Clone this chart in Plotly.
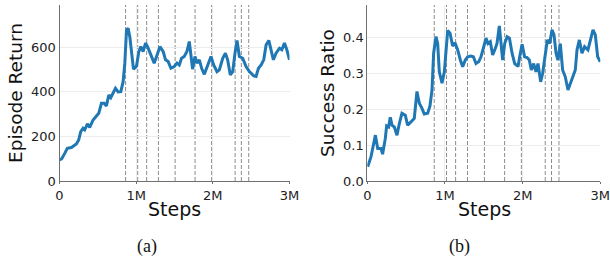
import plotly.graph_objects as go

# ---------------- data ----------------
steps_a = [0.003, 0.03, 0.068, 0.102, 0.155, 0.22, 0.25, 0.277, 0.307, 0.329, 0.364, 0.394,
           0.438, 0.481, 0.512, 0.547, 0.582, 0.612, 0.643, 0.669, 0.699, 0.73, 0.765, 0.8,
           0.83, 0.852, 0.874, 0.895, 0.917, 0.939, 0.965, 1.004, 1.035, 1.061, 1.091, 1.122,
           1.148, 1.192, 1.235, 1.266, 1.31, 1.353, 1.383, 1.418, 1.453, 1.497, 1.532, 1.562,
           1.592, 1.627, 1.662, 1.693, 1.715, 1.736, 1.767, 1.793, 1.824, 1.854, 1.889, 1.924,
           1.976, 2.011, 2.054, 2.085, 2.129, 2.164, 2.193, 2.228, 2.259, 2.289, 2.316, 2.346,
           2.39, 2.433, 2.477, 2.534, 2.564, 2.595, 2.63, 2.664, 2.695, 2.73, 2.76, 2.79,
           2.825, 2.869, 2.9, 2.934, 2.965, 3.0]
episode_return = [95, 100, 124, 147, 150, 166, 184, 222, 237, 230, 256, 241,
                  274, 292, 304, 349, 349, 337, 386, 374, 394, 416, 400, 401,
                  446, 529, 678, 686, 648, 574, 502, 515, 581, 603, 581, 619,
                  603, 566, 529, 559, 603, 581, 544, 536, 506, 514, 529, 521,
                  551, 559, 581, 626, 574, 502, 559, 529, 544, 506, 479, 514,
                  559, 521, 491, 499, 551, 574, 544, 476, 491, 574, 631, 559,
                  551, 514, 491, 472, 469, 506, 521, 544, 611, 631, 581, 544,
                  574, 596, 589, 619, 589, 544]

steps_b = [0.005, 0.048, 0.078, 0.104, 0.134, 0.176, 0.197, 0.232, 0.249, 0.275, 0.296, 0.318,
           0.348, 0.382, 0.412, 0.446, 0.489, 0.519, 0.562, 0.605, 0.639, 0.67, 0.704, 0.734,
           0.777, 0.807, 0.833, 0.854, 0.884, 0.906, 0.927, 0.962, 0.992, 1.013, 1.035, 1.065,
           1.099, 1.129, 1.164, 1.198, 1.228, 1.262, 1.292, 1.335, 1.365, 1.4, 1.434, 1.464,
           1.49, 1.511, 1.528, 1.554, 1.584, 1.614, 1.648, 1.67, 1.7, 1.725, 1.743, 1.769,
           1.8, 1.83, 1.864, 1.898, 1.941, 1.962, 1.993, 2.026, 2.056, 2.086, 2.112, 2.142,
           2.172, 2.198, 2.232, 2.258, 2.292, 2.318, 2.348, 2.378, 2.404, 2.43, 2.455, 2.485,
           2.515, 2.549, 2.584, 2.614, 2.644, 2.678, 2.7, 2.73, 2.764, 2.798, 2.841, 2.871,
           2.906, 2.936, 2.966, 3.0]
success_ratio = [0.040, 0.068, 0.100, 0.128, 0.091, 0.091, 0.075, 0.119, 0.154, 0.151, 0.178, 0.156,
                 0.151, 0.128, 0.160, 0.189, 0.184, 0.156, 0.165, 0.175, 0.250, 0.217, 0.203, 0.187,
                 0.189, 0.210, 0.254, 0.357, 0.403, 0.384, 0.305, 0.273, 0.305, 0.375, 0.420, 0.413,
                 0.377, 0.386, 0.366, 0.338, 0.319, 0.338, 0.347, 0.349, 0.347, 0.328, 0.333, 0.347,
                 0.365, 0.384, 0.399, 0.384, 0.389, 0.352, 0.370, 0.384, 0.433, 0.375, 0.338, 0.384,
                 0.403, 0.399, 0.357, 0.328, 0.320, 0.347, 0.382, 0.347, 0.345, 0.338, 0.310, 0.328,
                 0.305, 0.328, 0.277, 0.301, 0.357, 0.394, 0.384, 0.422, 0.408, 0.357, 0.338, 0.384,
                 0.310, 0.291, 0.254, 0.273, 0.291, 0.310, 0.366, 0.394, 0.357, 0.375, 0.366, 0.389,
                 0.422, 0.408, 0.347, 0.333]

switch_points = [0.862, 1.02, 1.137, 1.29, 1.508, 1.768, 1.984, 2.291, 2.372, 2.468]

x_tickvals = [0, 1, 2, 3]
x_ticktext = ["0", "1M", "2M", "3M"]
ya_tickvals = [0, 200, 400, 600]
yb_tickvals = [0.0, 0.1, 0.2, 0.3, 0.4]
yb_ticktext = ["0.0", "0.1", "0.2", "0.3", "0.4"]

# ---------------- figure ----------------
W, H = 610, 261
LINE = "#1f77b4"
FONT = "DejaVu Sans"
AXC = "#707070"
GRID = "#ececec"

fig = go.Figure()
fig.add_trace(go.Scatter(x=steps_a, y=episode_return, mode="lines",
                         line=dict(color=LINE, width=3), xaxis="x", yaxis="y",
                         showlegend=False, hoverinfo="skip"))
fig.add_trace(go.Scatter(x=steps_b, y=success_ratio, mode="lines",
                         line=dict(color=LINE, width=3), xaxis="x2", yaxis="y2",
                         showlegend=False, hoverinfo="skip"))

shapes = []
for ax_x, ax_y in (("x", "y"), ("x2", "y2")):
    for s in switch_points:
        shapes.append(dict(type="line", xref=ax_x, yref=ax_y + " domain",
                           x0=s, x1=s, y0=0, y1=1, layer="below",
                           line=dict(color="#8c8c8c", width=1, dash="4px,2px")))

ydom = [(H - 181) / H, (H - 5) / H]
common_x = dict(range=[0, 3], tickvals=x_tickvals, ticktext=x_ticktext, automargin=False,
                ticklabeloverflow="allow",
                showline=True, linecolor=AXC, linewidth=1, showgrid=True,
                gridcolor=GRID, gridwidth=1, zeroline=False, ticks="outside",
                ticklen=2, tickcolor=AXC, tickfont=dict(family=FONT, size=13, color="#222"))
common_y = dict(showline=True, linecolor=AXC, linewidth=1, showgrid=True, automargin=False,
                gridcolor=GRID, gridwidth=1, zeroline=False, ticks="",
                tickfont=dict(family=FONT, size=13, color="#222"))

fig.update_layout(
    width=W, height=H, margin=dict(l=0, r=0, t=0, b=0, autoexpand=False),
    paper_bgcolor="white", plot_bgcolor="white",
    xaxis=dict(domain=[59.5 / W, 289.5 / W], anchor="y", **common_x),
    yaxis=dict(domain=ydom, anchor="x", range=[0, 790], tickvals=ya_tickvals, **common_y),
    xaxis2=dict(domain=[367.3 / W, 600.3 / W], anchor="y2", **common_x),
    yaxis2=dict(domain=ydom, anchor="x2", range=[0, 0.4916], tickvals=yb_tickvals,
                ticktext=yb_ticktext, **common_y),
    shapes=shapes,
)

def ann(text, x, y, size, family=FONT, angle=0):
    fig.add_annotation(text=text, x=x / W, y=1 - y / H, xref="paper", yref="paper",
                       showarrow=False, textangle=angle, xanchor="center", yanchor="middle",
                       font=dict(family=family, size=size, color="#111"))

ann("Episode Return", 15, 93, 18.5, angle=-90)
ann("Success Ratio", 327, 93, 18.5, angle=-90)
ann("Steps", 174.5, 209, 19)
ann("Steps", 484, 209, 19)
ann("(a)", 147, 246, 18, family="Liberation Serif")
ann("(b)", 459, 246, 18, family="Liberation Serif")

fig.write_html("out.html", config={"displayModeBar": False, "staticPlot": True},
               post_script="document.body.style.margin='0';document.body.style.overflow='hidden';")
